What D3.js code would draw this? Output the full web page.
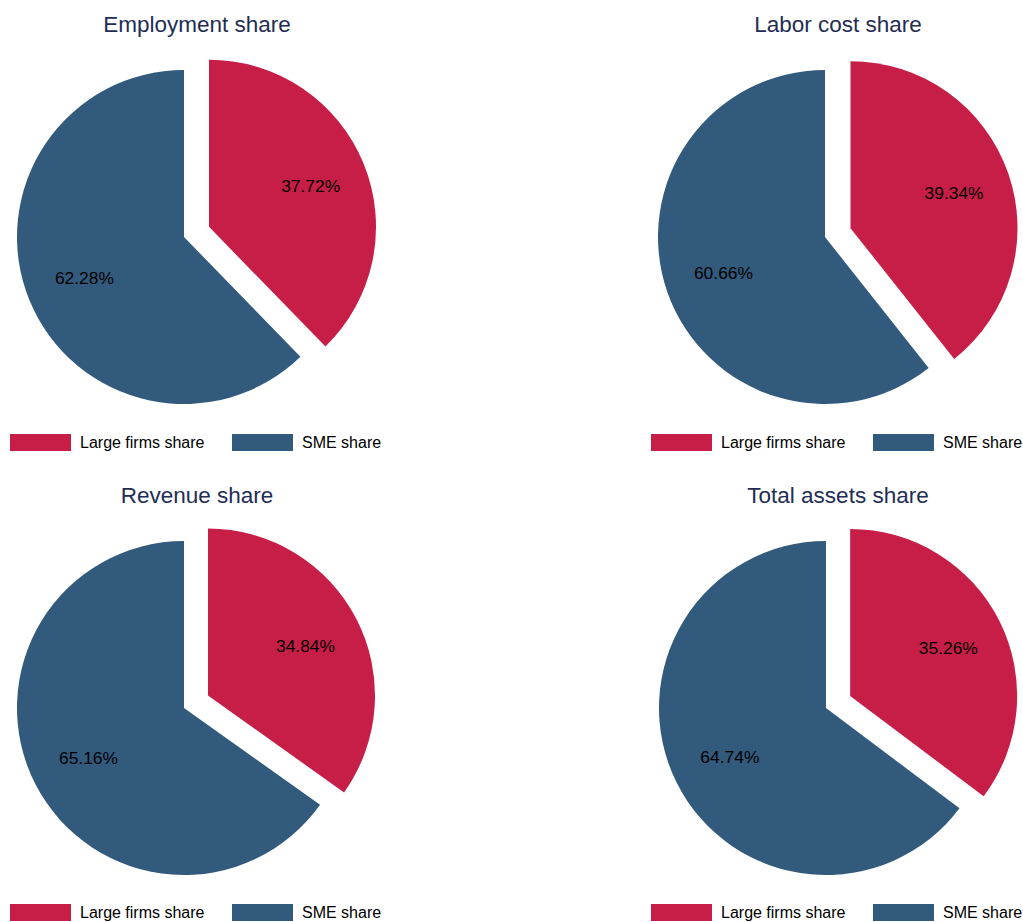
<!DOCTYPE html>
<html><head><meta charset="utf-8">
<script src="https://cdn.jsdelivr.net/npm/d3@7"></script>
<style>body{margin:0;background:#fff}svg{display:block}</style>
</head><body>
<script>
const titles = ["Employment share", "Labor cost share", "Revenue share", "Total assets share"];
const seriesNames = ["Large firms share", "SME share"];
const largeShare = [37.72, 39.34, 34.84, 35.26];
const smeShare = [62.28, 60.66, 65.16, 64.74];
const colors = ["#c71e47", "#325a7d"];

const W = 1023, H = 922;
const svg = d3.select("body").append("svg").attr("width", W).attr("height", H);
const font = "'Liberation Sans', Arial, sans-serif";

const panels = [
  {cx: 184, cy: 237, tx: 197, ty: 32, lx: 10, ly: 434},
  {cx: 825, cy: 237, tx: 838, ty: 32, lx: 651, ly: 434},
  {cx: 184, cy: 708, tx: 197, ty: 503, lx: 10, ly: 904},
  {cx: 826, cy: 708, tx: 838, ty: 503, lx: 651, ly: 904}
];
const R = 167, explode = 27, labelR = 108.6;

const pie = d3.pie().sort(null).value(d => d.v);
const arc = d3.arc().innerRadius(0).outerRadius(R);

titles.forEach((t, i) => {
  const p = panels[i];
  const g = svg.append("g");
  g.append("text").attr("x", p.tx).attr("y", p.ty).attr("text-anchor", "middle")
    .attr("font-family", font).attr("font-size", 22.5).attr("fill", "#1f2d54").text(t);
  const data = [{k: 0, v: largeShare[i]}, {k: 1, v: smeShare[i]}];
  const arcs = pie(data);
  arcs.forEach(a => {
    const mid = (a.startAngle + a.endAngle) / 2;
    const off = a.data.k === 0 ? explode : 0;
    const ox = p.cx + off * Math.sin(mid), oy = p.cy - off * Math.cos(mid);
    const sg = g.append("g").attr("transform", `translate(${ox},${oy})`);
    sg.append("path").attr("d", arc(a)).attr("fill", colors[a.data.k]);
    sg.append("text").attr("x", labelR * Math.sin(mid) + 1).attr("y", -labelR * Math.cos(mid))
      .attr("dy", "0.35em").attr("text-anchor", "middle")
      .attr("font-family", font).attr("font-size", 17.4).attr("fill", "#000")
      .text(a.data.v.toFixed(2) + "%");
  });
  // legend
  const lg = g.append("g").attr("transform", `translate(${p.lx},${p.ly})`);
  const offs = [0, 222];
  seriesNames.forEach((s, k) => {
    lg.append("rect").attr("x", offs[k]).attr("y", 0).attr("width", 61).attr("height", 17)
      .attr("fill", colors[k]);
    lg.append("text").attr("x", offs[k] + 70).attr("y", 14)
      .attr("font-family", font).attr("font-size", 16).attr("fill", "#000").text(s);
  });
});
</script>
</body></html>
